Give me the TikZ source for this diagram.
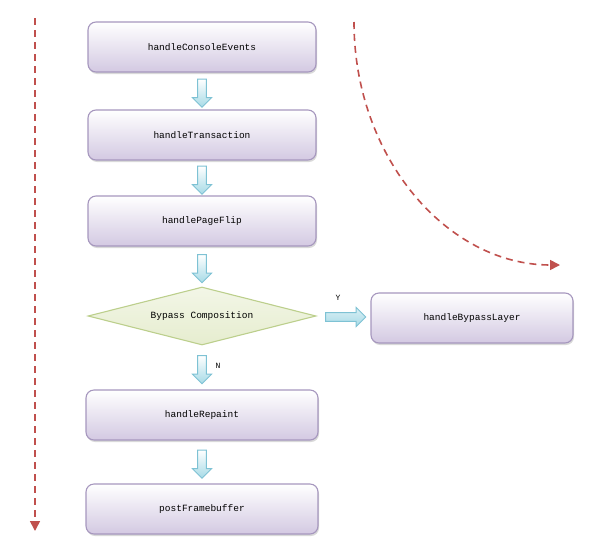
\documentclass[tikz,border=0pt]{standalone}
\usepackage{fontspec}
\setmonofont{Liberation Mono}
\usetikzlibrary{positioning,arrows.meta,calc,shapes.geometric,shapes.arrows,shadows}
\definecolor{uBoxLine}{HTML}{A697BE}
\definecolor{uBoxFill}{HTML}{D3C9E2}
\definecolor{uTestLine}{HTML}{BCCF8C}
\definecolor{uTestFill}{HTML}{E6EDCF}
\definecolor{uFlowLine}{HTML}{7EC2D4}
\definecolor{uFlowFill}{HTML}{A6DAE6}
\definecolor{uPass}{HTML}{C0504D}
\tikzset{
  stepbox/.style={draw=uBoxLine, rounded corners=8pt, top color=white,
                  bottom color=uBoxFill, minimum width=228pt, minimum height=50pt,
                  font=\fontsize{9.5}{11}\ttfamily, line width=1.1pt,
                  drop shadow={shadow xshift=1pt, shadow yshift=-2pt,
                               opacity=0.3}},
  decide/.style={diamond, draw=uTestLine, top color=uTestFill!50,
                 bottom color=uTestFill, aspect=3.9, minimum width=228pt,
                 minimum height=58pt, inner sep=0pt, line width=1.1pt,
                 font=\fontsize{9.5}{11}\ttfamily},
  flowdown/.style={single arrow, draw=uFlowLine, top color=white,
                   bottom color=uFlowFill, shape border rotate=270,
                   minimum width=19pt, minimum height=28pt, inner sep=3pt,
                   single arrow head extend=4pt, line width=1pt},
  flowright/.style={flowdown, shape border rotate=0, minimum height=40pt,
                    top color=white!60!uFlowFill, bottom color=uFlowFill},
  pass/.style={draw=uPass, dash pattern=on 7pt off 5pt, line width=1.6pt,
               -{Triangle[length=10pt, width=10pt]}},
  lbl/.style={font=\fontsize{8}{9}\ttfamily, inner sep=1pt},
}

\begin{document}
\begin{tikzpicture}[x=1pt, y=-1pt]
\useasboundingbox (0,0) rectangle (604,549);

%% -- main column --
\node[stepbox] (console) at (202,47) {handleConsoleEvents};
\node[stepbox] (transaction) at (202,135) {handleTransaction};
\node[stepbox] (pageflip) at (202,221) {handlePageFlip};
\node[decide] (bypass) at (202,316) {Bypass Composition};
\node[stepbox, minimum width=202pt] (bypasslayer) at (472,318) {handleBypassLayer};
\node[stepbox, minimum width=232pt] (repaint) at (202,415) {handleRepaint};
\node[stepbox, minimum width=232pt] (postfb) at (202,509) {postFramebuffer};

%% -- block arrows between the steps --
\node[flowdown] (f1) at ($(console.south)!0.5!(transaction.north)$) {};
\node[flowdown] (f2) at ($(transaction.south)!0.5!(pageflip.north)$) {};
\node[flowdown] (f3) at ($(pageflip.south)!0.5!(bypass.north)$) {};
\node[flowdown] (f4) at ($(bypass.south)!0.5!(repaint.north)$) {};
\node[flowdown] (f5) at ($(repaint.south)!0.5!(postfb.north)$) {};
\node[flowright] (fy) at ($(bypass.east)!0.5!(bypasslayer.west)$) {};
\node[lbl] (yes) at (338,298) {Y};
\node[lbl] (no) at (218,366) {N};

%% -- dashed passes --
\coordinate (ltop) at (35,18);
\coordinate (lend) at (35,531);
\draw[pass] (ltop) -- (lend);
\coordinate (rtop) at (354,22);
\draw[pass] (rtop) arc[start angle=180, end angle=90, x radius=206, y radius=243];

\end{tikzpicture}
\end{document}
